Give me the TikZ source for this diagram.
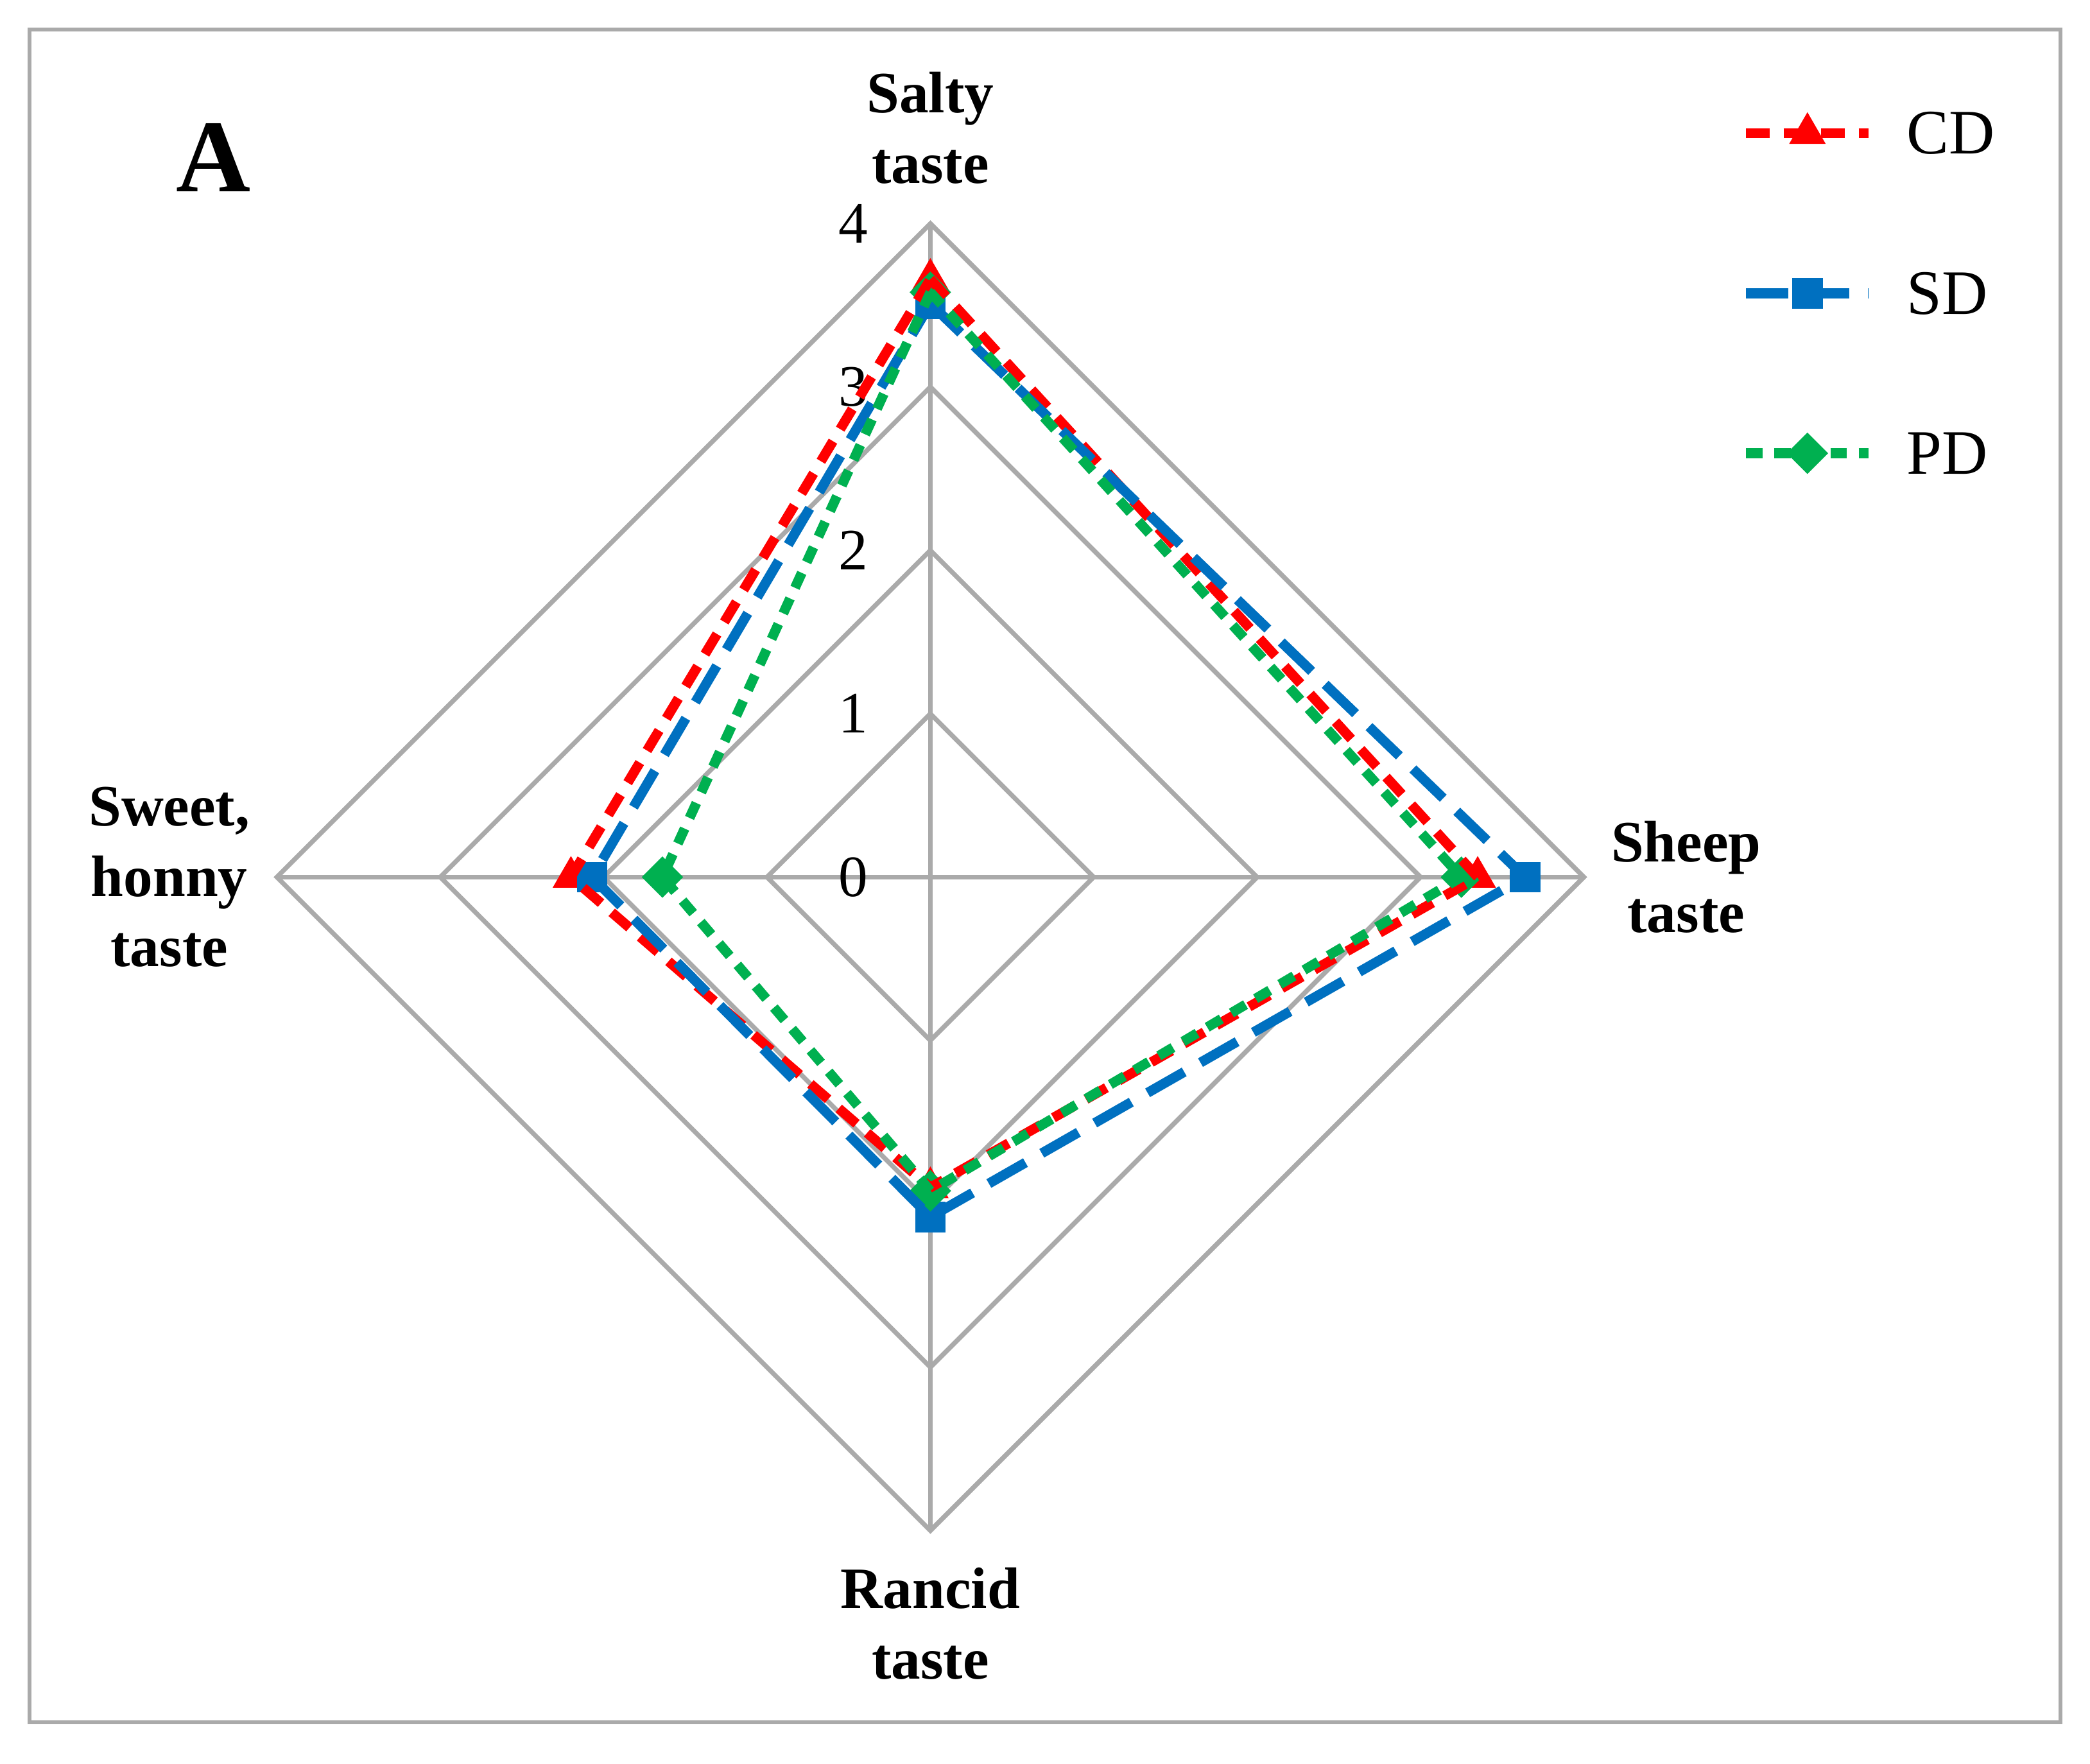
\documentclass[tikz,border=0pt]{standalone}
\usepackage{fontspec}
\setmainfont{Liberation Serif}
\usetikzlibrary{shapes.geometric, positioning, calc}
\definecolor{cdred}{RGB}{255,0,0}
\definecolor{sdblue}{RGB}{0,112,192}
\definecolor{pdgreen}{RGB}{0,176,80}
\definecolor{gridgray}{RGB}{170,170,170}
\tikzset{
  axislabel/.style={font=\fontsize{12.5}{15}\selectfont\bfseries, align=center},
  ticklabel/.style={font=\fontsize{12.5}{15}\selectfont},
  cdline/.style={cdred, line width=2.1pt, dash pattern=on 5pt off 3pt},
  sdline/.style={sdblue, line width=2.1pt, dash pattern=on 9pt off 4pt},
  pdline/.style={pdgreen, line width=2.1pt, dash pattern=on 3.5pt off 2.5pt},
  cdmark/.style={regular polygon, regular polygon sides=3, fill=cdred, inner sep=0pt, minimum size=9pt},
  sdmark/.style={rectangle, fill=sdblue, inner sep=0pt, minimum size=6.5pt},
  pdmark/.style={diamond, fill=pdgreen, inner sep=0pt, minimum size=9pt}
}
\begin{document}
\begin{tikzpicture}[x=0.01cm, y=-0.01cm]
        \useasboundingbox (0,0) rectangle (1568,1323);
        \draw[gridgray, line width=0.8pt] (22,22) rectangle (1546,1292);

        % grid
        \begin{scope}[shift={(698,658)}, x=1.225cm, y=1.225cm]
        \foreach \r in {1,2,3,4}
            \draw[gridgray, line width=1pt] (0,\r) -- (\r,0) -- (0,-\r) -- (-\r,0) -- cycle;
        \draw[gridgray, line width=1pt] (0,4) -- (0,-4) (-4,0) -- (4,0);
        \foreach \r in {0,1,2,3,4}
            \node[ticklabel, anchor=east] at (-0.28,\r) {\r};

        % data points
        \node[cdmark] (cd1) at (0,3.66) {};
        \node[cdmark] (cd2) at (3.35,0) {};
        \node[cdmark] (cd3) at (0,-1.9) {};
        \node[cdmark] (cd4) at (-2.2,0) {};
        \node[sdmark] (sd1) at (0,3.51) {};
        \node[sdmark] (sd2) at (3.64,0) {};
        \node[sdmark] (sd3) at (0,-2.08) {};
        \node[sdmark] (sd4) at (-2.07,0) {};
        \node[pdmark] (pd1) at (0,3.58) {};
        \node[pdmark] (pd2) at (3.25,0) {};
        \node[pdmark] (pd3) at (0,-1.92) {};
        \node[pdmark] (pd4) at (-1.64,0) {};
        \end{scope}

        \draw[cdline] (cd1.center) -- (cd2.center) -- (cd3.center) -- (cd4.center) -- cycle;
        \draw[sdline] (sd1.center) -- (sd2.center) -- (sd3.center) -- (sd4.center) -- cycle;
        \draw[pdline] (pd1.center) -- (pd2.center) -- (pd3.center) -- (pd4.center) -- cycle;

        % axis labels
        \node[axislabel] (salty) at (698,96) {Salty\\taste};
        \node[axislabel] (sheep) at (1265,658) {Sheep\\taste};
        \node[axislabel] (rancid) at (698,1218) {Rancid\\taste};
        \node[axislabel] (sweet) at (127,658) {Sweet,\\honny\\taste};
        \node[font=\fontsize{22}{24}\selectfont\bfseries] (panel) at (160,118) {A};

        % legend
        \foreach \s/\t/\y in {cd/CD/100, sd/SD/220, pd/PD/340} {
            \coordinate (\s a) at (1310,\y);
            \coordinate (\s b) at (1402,\y);
            \draw[\s line] (\s a) -- (\s b);
            \node[\s mark] at ($(\s a)!0.5!(\s b)$) {};
            \node[anchor=west, font=\fontsize{13.5}{16}\selectfont] at (1418,\y) {\t};
        }
\end{tikzpicture}
\end{document}
